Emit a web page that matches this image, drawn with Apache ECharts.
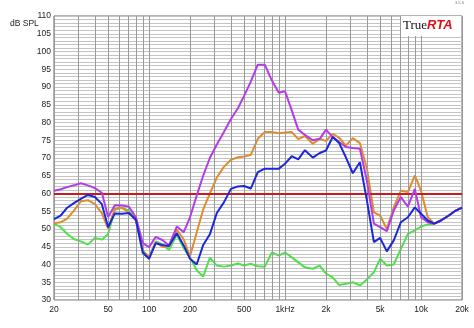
<!DOCTYPE html>
<html><head><meta charset="utf-8">
<script src="https://cdn.jsdelivr.net/npm/echarts@6/dist/echarts.min.js"></script>
<style>html,body{margin:0;padding:0;background:#fff}#c{width:474px;height:328px}</style>
</head><body><div id="c"></div>
<script>
const frequencies = [20,22.4,25,28,31.5,35.5,40,45,50,56,63,71,80,90,100,112,125,140,160,180,200,224,250,280,315,355,400,450,500,560,630,710,800,900,1000,1120,1250,1400,1600,1800,2000,2240,2500,2800,3150,3550,4000,4500,5000,5600,6300,7100,8000,9000,10000,11200,12500,14000,16000,18000,20000];

const purpleSeries = [60.8,61.2,61.8,62.3,62.9,62.3,61.5,60.2,53.4,56.7,56.6,56.3,53.3,46,44.9,47.8,46.9,45.4,50.7,49.1,53.3,59.4,65,70,73.8,77.3,81,84,87.5,91.5,96.3,96.3,91.8,88.4,88.8,83.4,78,76.5,75,75.4,78,75.9,74.5,73.1,72.8,72.6,63.5,51.5,50.5,49.4,55.2,59,56.3,61.3,53.3,51.9,51.5,52.4,53.8,55.2,56];

const orangeSeries = [51.6,51.9,52.9,55.2,57.8,58.1,57,54.4,50.1,55.7,56,54.7,52.4,43.9,42.2,46.3,45,45.1,49.8,47,42.3,49,55.5,60,64.5,67.5,69.5,70.2,70.4,70.9,75.4,77.3,77.3,77,77.2,77.3,75.3,76.2,74,75.4,74.8,76.8,75.7,73.5,75.6,74.2,67,54.7,53.8,50,56.1,60.8,60.4,65.1,60.8,53.3,51.5,52.4,53.8,55.2,56];

const blueSeries = [52.8,53.8,56,57.3,58.5,59.6,59,57,50.5,54.4,54.3,54.5,52.6,43.4,41.6,46,45.5,45.2,48.8,45.3,41.6,40,45.5,48.5,54.5,57.5,61.3,62,62.1,61.4,66,67,67,67,68.4,70.5,69.6,72.2,70.1,71.4,72.1,75.9,74.2,70.2,65.7,68.8,58,46.3,47.5,43.7,46.8,51.9,53.3,56.1,54.3,52.4,51.5,52.4,53.8,55.2,56];

const greenSeries = [51.5,50.5,48.6,47.2,46.5,45.6,47.5,47,48.6,55.4,56,55.2,52.9,43,41.9,46.5,45.7,44.1,48.4,44.6,42,38.4,36.6,41.9,39.7,39.4,39.7,40.3,39.7,40.2,39.5,39.4,43.4,42.5,43.4,42,40.6,39.2,38.8,39.7,37.4,36.4,34.2,34.6,35,34.1,35.8,37.8,41.6,39.7,40,44.4,48.6,49.6,50.7,51.3,51.5,52.4,53.8,55.2,56];

const gridFrequencies = [20,30,40,50,60,70,80,90,100,200,300,400,500,600,700,800,900,1000,2000,3000,4000,5000,6000,7000,8000,9000,10000,20000];
const xTickValues = [20,50,100,200,500,1000,2000,5000,10000,20000];
const xTickLabels = ['20','50','100','200','500','1kHz','2k','5k','10k','20k'];
const referenceLevel = 60;
const yMin = 30, yMax = 110, yStep = 5;

const FONT = 'Liberation Sans, Arial, sans-serif';
const chart = echarts.init(document.getElementById('c'), null, {renderer: 'canvas'});

function pairs(vals) { return frequencies.map((f, i) => [f, vals[i]]); }

const gridLineData = gridFrequencies.map(f => {
  const idx = xTickValues.indexOf(f);
  return {
    xAxis: f,
    label: idx >= 0 ? {show: true, formatter: xTickLabels[idx]} : {show: false}
  };
});

function curve(name, vals, color, z) {
  return {
    name, type: 'line', data: pairs(vals), showSymbol: false, symbol: 'none',
    lineStyle: {color, width: 2}, itemStyle: {color}, z, silent: true, animation: false
  };
}

chart.setOption({
  animation: false,
  backgroundColor: '#fff',
  title: {text: 'dB SPL', left: 10, top: 19, padding: 0, textStyle: {fontSize: 8.5, fontWeight: 'normal', color: '#222', fontFamily: FONT}},
  grid: {left: 54, right: 12, top: 16, bottom: 28, show: true, borderColor: '#666', borderWidth: 1, backgroundColor: 'transparent'},
  xAxis: {
    type: 'log', logBase: 10, min: 20, max: 20000,
    axisLine: {show: false}, axisTick: {show: false}, axisLabel: {show: false}, splitLine: {show: false}
  },
  yAxis: {
    type: 'value', min: yMin, max: yMax, interval: yStep,
    axisLine: {show: false}, axisTick: {show: false},
    axisLabel: {fontSize: 8.5, color: '#222', margin: 3, fontFamily: FONT},
    splitLine: {show: true, lineStyle: {color: '#c4c4c4', width: 1}},
    minorTick: {show: false, splitNumber: 5},
    minorSplitLine: {show: true, lineStyle: {color: '#c4c4c4', width: 1}}
  },
  series: [
    {
      name: 'grid', type: 'line', data: [], z: 1, silent: true,
      markLine: {
        silent: true, symbol: 'none', animation: false,
        lineStyle: {color: '#9a9a9a', width: 1, type: 'solid'},
        label: {position: 'start', distance: 5, fontSize: 8.5, color: '#222', fontFamily: FONT},
        emphasis: {disabled: true},
        data: gridLineData
      }
    },
    {
      name: 'reference', type: 'line', data: [], z: 2, silent: true,
      markLine: {
        silent: true, symbol: 'none', animation: false,
        lineStyle: {color: '#cc1a1a', width: 2, type: 'solid'},
        label: {show: false}, emphasis: {disabled: true},
        data: [{yAxis: referenceLevel}]
      }
    },
    curve('green', greenSeries, '#4fe04a', 3),
    curve('orange', orangeSeries, '#e08c2d', 4),
    curve('purple', purpleSeries, '#b43ce6', 5),
    curve('blue', blueSeries, '#1a28d8', 6)
  ],
  graphic: [
    {type: 'rect', z: 100, left: 401, top: 16, shape: {width: 60, height: 20}, style: {fill: '#fff'}},
    {type: 'text', z: 101, left: 403, top: 19, style: {
      text: '{a|True}{b|RTA}',
      rich: {
        a: {fontFamily: 'Liberation Serif, Times New Roman, serif', fontSize: 13, fill: '#111'},
        b: {fontFamily: FONT, fontSize: 13, fontWeight: 'bold', fontStyle: 'italic', fill: '#e01018'}
      }
    }},
    {type: 'text', z: 101, left: 455, top: 1, style: {text: '3.5.6', fontSize: 4, fill: '#777', fontFamily: FONT}}
  ]
});
</script></body></html>
